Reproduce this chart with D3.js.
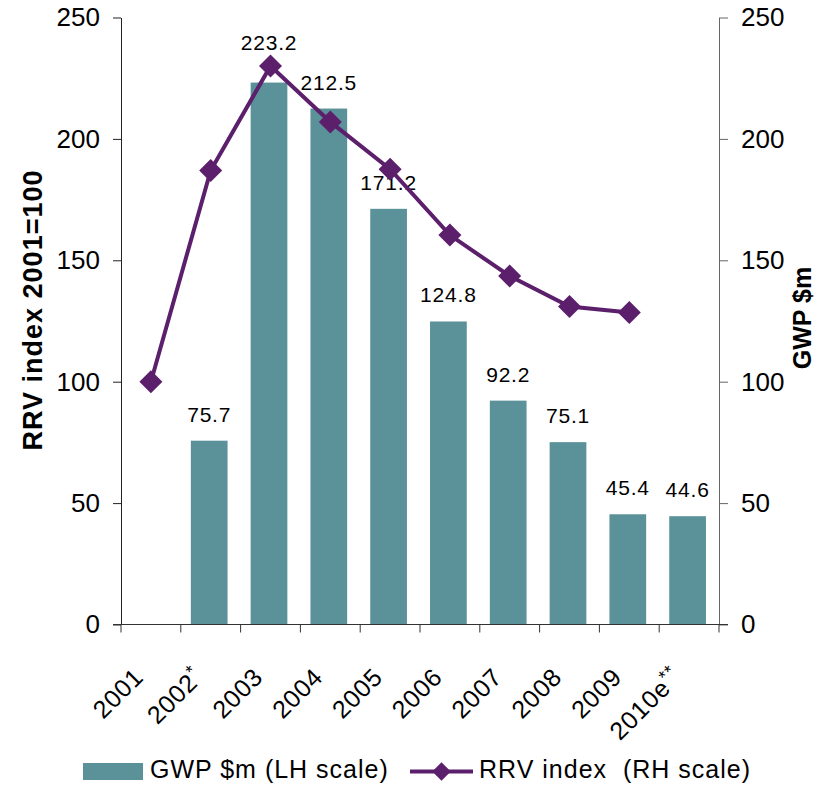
<!DOCTYPE html>
<html>
  <head>
    <meta charset="utf-8">
    <script src="https://d3js.org/d3.v7.min.js"></script>
    <style>
      body { margin: 0; background: #fff; }
      text { font-family: "Liberation Sans", Arial, sans-serif; fill: #000; }
    </style>
  </head>
  <body>
    <script type="text/javascript">
      // chart values
      var categories = ["2001", "2002*", "2003", "2004", "2005", "2006", "2007", "2008", "2009", "2010e**"];
      var gwpValues = [null, 75.7, 223.2, 212.5, 171.2, 124.8, 92.2, 75.1, 45.4, 44.6];
      var rrvValues = [100, 187, 230, 207, 187.5, 160.4, 143.5, 131, 128.5, null];
      var yTicks = [0, 50, 100, 150, 200, 250];
      var barColor = "#5b9199",
          lineColor = "#5c1f6b";

      var width = 823, height = 788,
          plotLeft = 121, plotRight = 719, plotTop = 17.5, plotBottom = 624.5;

      var svg = d3.select("body").append("svg")
        .attr("width", width)
        .attr("height", height);

      var x = d3.scaleBand()
        .domain(categories)
        .range([plotLeft, plotRight])
        .paddingInner(0.386)
        .paddingOuter(0.193);

      var yL = d3.scaleLinear().domain([0, 250]).range([plotBottom, plotTop]);
      var yR = d3.scaleLinear().domain([0, 250]).range([plotBottom, plotTop]);

      var step = x.step();
      var xc = function (c) { return x(c) + x.bandwidth() / 2; };

      // bars
      var barData = categories.map(function (c, i) { return { c: c, v: gwpValues[i], r: rrvValues[i] }; });
      svg.append("g").selectAll("rect")
        .data(barData.filter(function (d) { return d.v != null; }))
        .enter().append("rect")
          .attr("x", function (d) { return x(d.c) - 1.5; })
          .attr("y", function (d) { return yL(d.v); })
          .attr("width", x.bandwidth())
          .attr("height", function (d) { return plotBottom - yL(d.v); })
          .attr("fill", barColor);

      // bar value labels (lifted above the marker when they would collide)
      svg.append("g").selectAll("text")
        .data(barData.filter(function (d) { return d.v != null; }))
        .enter().append("text")
          .attr("x", function (d) { return xc(d.c) - 1.5; })
          .attr("y", function (d) {
            var base = yL(d.v) - 19;
            if (d.r != null && Math.abs(yR(d.r) - (yL(d.v) - 12)) < 15) base = yR(d.r) - 16;
            return base;
          })
          .attr("text-anchor", "middle")
          .style("font-size", "21px")
          .style("letter-spacing", "0.8px")
          .text(function (d) { return d3.format(".1f")(d.v); });

      // axes
      var axL = svg.append("g")
        .attr("transform", "translate(" + plotLeft + ",0)")
        .call(d3.axisLeft(yL).tickValues(yTicks).tickSize(8).tickPadding(13).tickSizeOuter(0));
      axL.select(".domain").attr("stroke", "#222");
      axL.selectAll(".tick line").attr("stroke", "#222");
      axL.selectAll("text").style("font-size", "26px").attr("font-family", null);

      var axR = svg.append("g")
        .attr("transform", "translate(" + plotRight + ",0)")
        .call(d3.axisRight(yR).tickValues(yTicks).tickSize(9).tickPadding(13).tickSizeOuter(0));
      axR.select(".domain").attr("stroke", "#666");
      axR.selectAll(".tick line").attr("stroke", "#666");
      axR.selectAll("text").style("font-size", "26px").attr("font-family", null);

      // category axis
      svg.append("line")
        .attr("x1", plotLeft - 8).attr("x2", plotRight + 9)
        .attr("y1", plotBottom).attr("y2", plotBottom)
        .attr("stroke", "#333");
      svg.append("g").selectAll("line")
        .data(d3.range(categories.length + 1))
        .enter().append("line")
          .attr("x1", function (i) { return plotLeft + i * step; })
          .attr("x2", function (i) { return plotLeft + i * step; })
          .attr("y1", plotBottom).attr("y2", plotBottom + 8)
          .attr("stroke", "#333");

      var xl = svg.append("g").selectAll("text")
        .data(categories)
        .enter().append("text")
          .attr("transform", function (c) { return "translate(" + (xc(c) - 6) + "," + (plotBottom + 54) + ") rotate(-45)"; })
          .attr("text-anchor", "end")
          .style("font-size", "25px")
          .style("letter-spacing", "0.8px");
      xl.append("tspan").text(function (c) { return c.replace(/\*+$/, ""); });
      xl.append("tspan")
        .attr("dy", -9)
        .style("font-size", "18px")
        .text(function (c) { var m = c.match(/\*+$/); return m ? m[0] : ""; });

      // RRV line
      var line = d3.line()
        .defined(function (d) { return d.r != null; })
        .x(function (d) { return xc(d.c); })
        .y(function (d) { return yR(d.r); });
      svg.append("path")
        .datum(barData)
        .attr("d", line)
        .attr("fill", "none")
        .attr("stroke", lineColor)
        .attr("stroke-width", 4);

      var diamond = d3.symbol().type(d3.symbolSquare).size(265);
      svg.append("g").selectAll("path")
        .data(barData.filter(function (d) { return d.r != null; }))
        .enter().append("path")
          .attr("d", diamond)
          .attr("transform", function (d) { return "translate(" + xc(d.c) + "," + yR(d.r) + ") rotate(45)"; })
          .attr("fill", lineColor);

      // axis titles
      svg.append("text")
        .attr("transform", "translate(42,310) rotate(-90)")
        .attr("text-anchor", "middle")
        .style("font-size", "27px")
        .style("font-weight", "bold")
        .style("letter-spacing", "1px")
        .text("RRV index 2001=100");
      svg.append("text")
        .attr("transform", "translate(811,318) rotate(-90)")
        .attr("text-anchor", "middle")
        .style("font-size", "25px")
        .style("font-weight", "bold")
        .text("GWP $m");

      // legend
      var lg = svg.append("g");
      lg.append("rect")
        .attr("x", 83).attr("y", 763).attr("width", 60).attr("height", 17)
        .attr("fill", barColor);
      lg.append("text")
        .attr("x", 150).attr("y", 778)
        .style("font-size", "25px")
        .style("letter-spacing", "1px")
        .text("GWP $m (LH scale)");
      lg.append("line")
        .attr("x1", 410).attr("x2", 473).attr("y1", 771.5).attr("y2", 771.5)
        .attr("stroke", lineColor).attr("stroke-width", 4);
      lg.append("path")
        .attr("d", d3.symbol().type(d3.symbolSquare).size(170))
        .attr("transform", "translate(441.5,771.5) rotate(45)")
        .attr("fill", lineColor);
      lg.append("text")
        .attr("x", 479).attr("y", 778)
        .attr("xml:space", "preserve")
        .style("white-space", "pre")
        .style("font-size", "25px")
        .style("letter-spacing", "1px")
        .text("RRV index  (RH scale)");
    </script>
  </body>
</html>
